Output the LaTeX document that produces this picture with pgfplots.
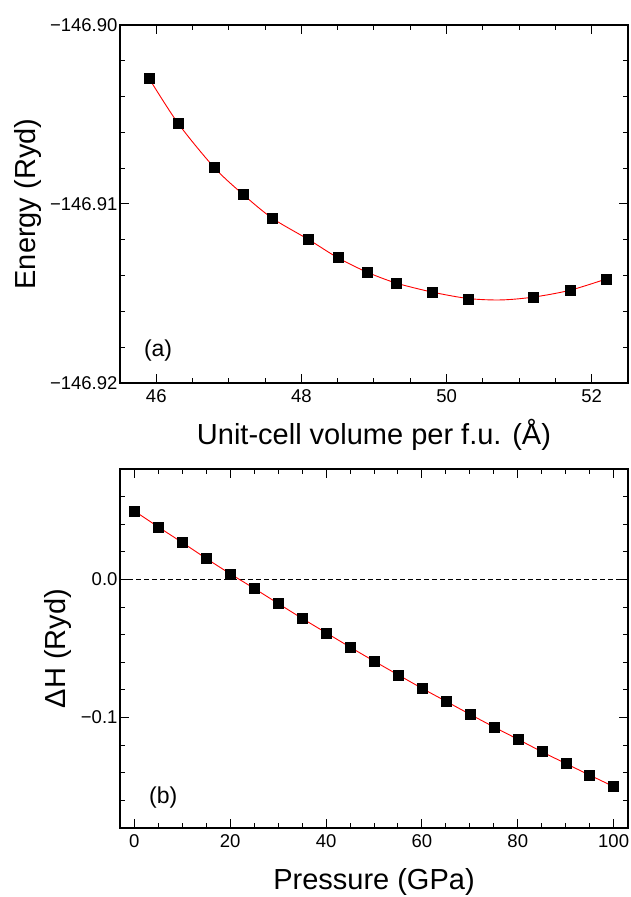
\documentclass[border=0pt]{standalone}
\usepackage{fontspec}
\setmainfont{Liberation Sans}
\usepackage{pgfplots}
\pgfplotsset{compat=1.18}

\pgfplotsset{
  panel/.style={
    scale only axis, width=508pt,
    axis line style={line width=1.2pt},
    every tick/.style={black, line width=1pt},
    major tick length=9pt, minor tick length=5pt,
    tick align=inside,
    ticklabel style={font=\fontsize{18.5}{22}\selectfont},
    xticklabel style={yshift=-3pt},
    yticklabel style={xshift=1pt},
    label style={font=\fontsize{29}{34}\selectfont},
    /pgf/number format/assume math mode=true,
  },
}

\begin{document}
\begin{tikzpicture}
\path[use as bounding box] (0,0) rectangle (630pt,897pt);

% (a) energy, stored as 1000*(E+146.9) mRyd; fpu cannot hold -146.9xxxx precisely
\begin{axis}[panel, height=358pt,
  at={(120pt,514pt)}, anchor=south west,
  xmin=45.5, xmax=52.5, xtick={46,48,50,52}, minor x tick num=3,
  ymin=-20, ymax=0, ytick={-20,-10,0}, minor y tick num=4,
  yticklabels={−146.92,−146.91,−146.90},
  xlabel={Unit-cell volume per f.u. (Å)},
  ylabel={Energy (Ryd)},
  xlabel style={at={(axis description cs:0.5,-0.145)}, anchor=center},
  ylabel style={at={(axis description cs:-0.181,0.5)}, anchor=center},
]
\addplot[red, line width=0.9pt, smooth] coordinates {
  (45.9,-2.98) (46.3,-5.49) (46.8,-7.97) (47.2,-9.48) (47.6,-10.80)
  (48.1,-11.99) (48.5,-13.00) (48.9,-13.80) (49.3,-14.41) (49.8,-14.92)
  (50.3,-15.28) (50.75,-15.36) (51.2,-15.20) (51.7,-14.82) (52.2,-14.19)};
\addplot[only marks, mark=square*, mark size=5pt, black] coordinates {
  (45.9,-2.98) (46.3,-5.49) (46.8,-7.97) (47.2,-9.48) (47.6,-10.80)
  (48.1,-11.99) (48.5,-13.00) (48.9,-13.80) (49.3,-14.41) (49.8,-14.92)
  (50.3,-15.31) (51.2,-15.20) (51.7,-14.82) (52.2,-14.19)};
\node[font=\fontsize{23}{27}\selectfont] at (axis description cs:0.075,0.092) {(a)};
\end{axis}

% (b) enthalpy difference
\begin{axis}[panel, height=359pt,
  at={(120pt,69pt)}, anchor=south west,
  xmin=-3, xmax=103, xtick={0,20,...,100}, minor x tick num=3,
  ymin=-0.18, ymax=0.08, ytick={-0.1,0}, yticklabels={−0.1,0.0},
  minor ytick={-0.18,-0.16,-0.14,-0.12,-0.08,-0.06,-0.04,-0.02,0.02,0.04,0.06,0.08},
  xlabel={Pressure (GPa)},
  ylabel={ΔH (Ryd)},
  xlabel style={at={(axis description cs:0.5,-0.15)}, anchor=center},
  ylabel style={at={(axis description cs:-0.122,0.5)}, anchor=center},
]
\addplot[black, line width=0.9pt, dash pattern=on 5pt off 3pt] coordinates {(-3,0) (103,0)};
\addplot[red, line width=0.9pt, smooth] coordinates {
  (0,0.0496) (5,0.0380) (10,0.0267) (15,0.0152) (20,0.0041) (25,-0.0065)
  (30,-0.0174) (35,-0.0282) (40,-0.0386) (45,-0.0490) (50,-0.0591)
  (55,-0.0690) (60,-0.0788) (65,-0.0882) (70,-0.0976) (75,-0.1068)
  (80,-0.1157) (85,-0.1247) (90,-0.1333) (95,-0.1417) (100,-0.1500)};
\addplot[only marks, mark=square*, mark size=5pt, black] coordinates {
  (0,0.0496) (5,0.0380) (10,0.0267) (15,0.0152) (20,0.0041) (25,-0.0065)
  (30,-0.0174) (35,-0.0282) (40,-0.0386) (45,-0.0490) (50,-0.0591)
  (55,-0.0690) (60,-0.0788) (65,-0.0882) (70,-0.0976) (75,-0.1068)
  (80,-0.1157) (85,-0.1247) (90,-0.1333) (95,-0.1417) (100,-0.1500)};
\node[font=\fontsize{23}{27}\selectfont] at (axis description cs:0.085,0.086) {(b)};
\end{axis}
\end{tikzpicture}
\end{document}
